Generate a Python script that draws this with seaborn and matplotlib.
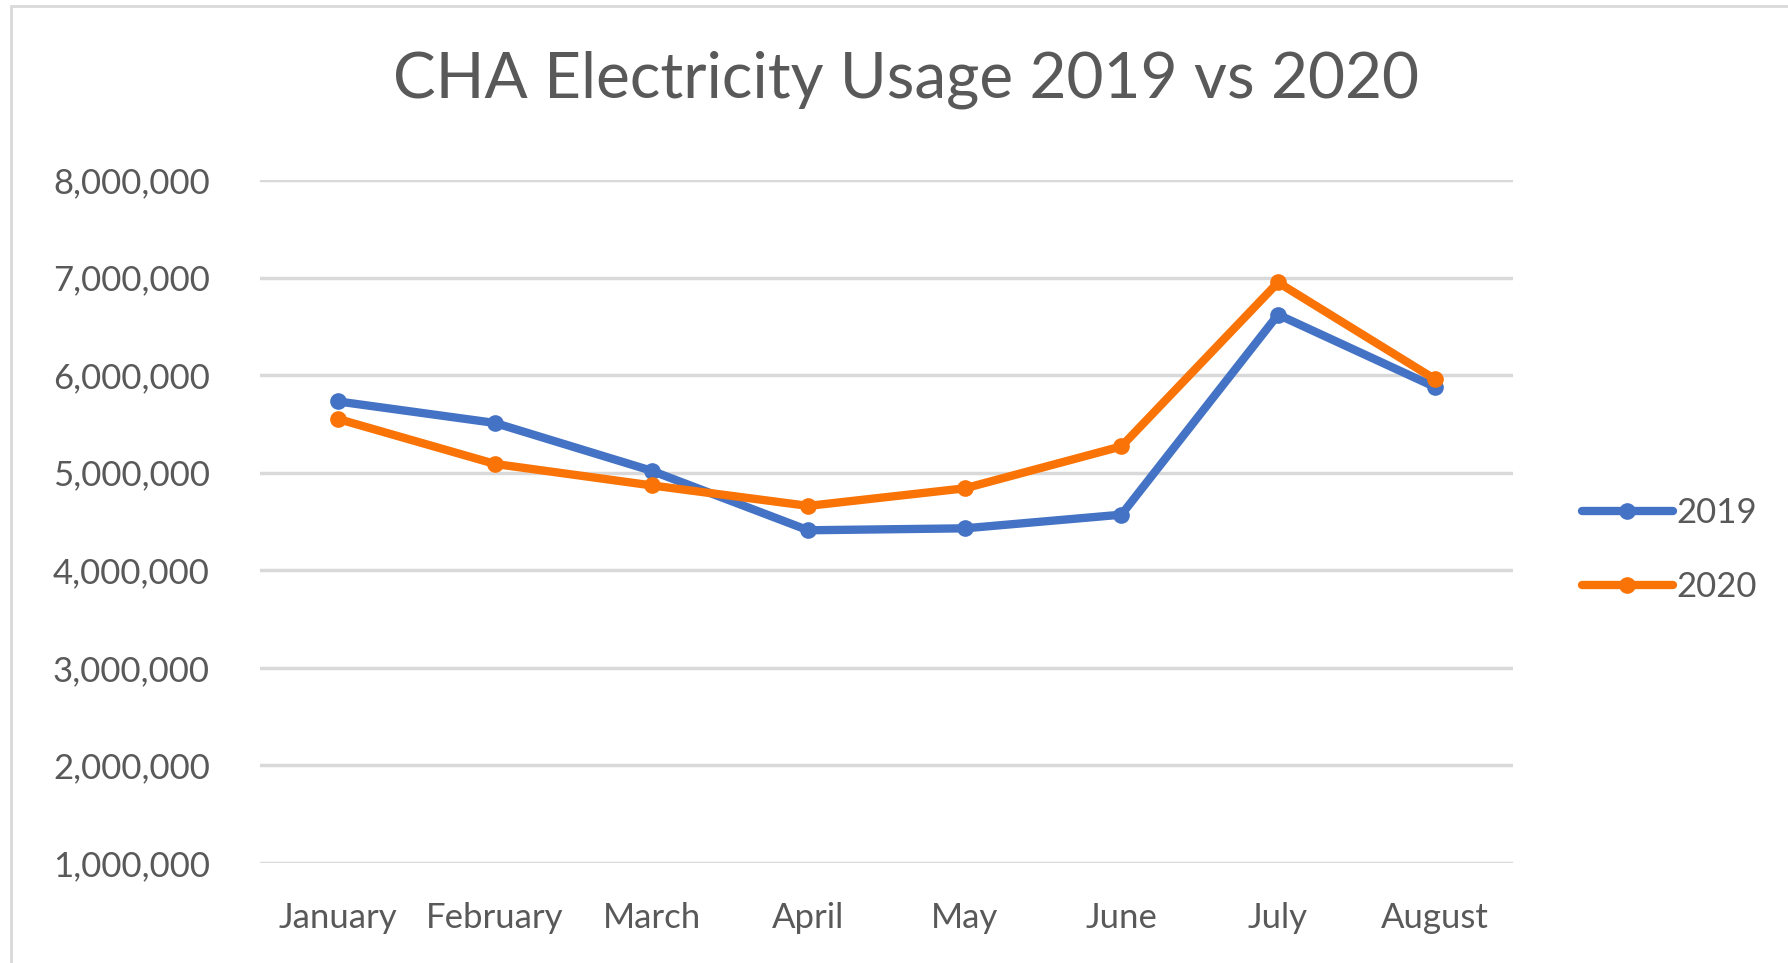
import matplotlib
matplotlib.use("Agg")
import matplotlib.pyplot as plt
import matplotlib.ticker as mticker
from matplotlib.patches import Rectangle
import seaborn as sns
import pandas as pd

months = ["January", "February", "March", "April", "May", "June", "July", "August"]
usage_2019 = [5730000, 5510000, 5020000, 4410000, 4430000, 4570000, 6620000, 5880000]
usage_2020 = [5550000, 5090000, 4870000, 4660000, 4840000, 5270000, 6950000, 5960000]
years = ["2019", "2020"]
y_ticks = [1000000, 2000000, 3000000, 4000000, 5000000, 6000000, 7000000, 8000000]

colors = {"2019": "#4472C4", "2020": "#F97306"}
text_gray = "#595959"

df = pd.DataFrame({
    "month": months * 2,
    "usage": usage_2019 + usage_2020,
    "year": [years[0]] * len(months) + [years[1]] * len(months),
})

sns.set_style("white")
plt.rcParams["font.family"] = ["Lato", "DejaVu Sans"]

fig = plt.figure(figsize=(17.88, 9.63), dpi=100)
ax = fig.add_axes([260 / 1788, 1 - 863 / 963, (1513 - 260) / 1788, (863 - 180) / 963])

for y in y_ticks:
    ax.axhline(y, color="#D9D9D9", lw=2.5, zorder=0)

sns.lineplot(data=df, x="month", y="usage", hue="year", palette=colors,
             marker="o", markersize=12, markeredgewidth=0, linewidth=6,
             sort=False, ax=ax, legend=False)

ax.set_xlim(-0.5, len(months) - 0.5)
ax.set_ylim(y_ticks[0], y_ticks[-1])
ax.set_yticks(y_ticks)
ax.yaxis.set_major_formatter(mticker.FuncFormatter(lambda v, p: f"{int(v):,}"))
ax.set_xlabel("")
ax.set_ylabel("")
ax.tick_params(axis="y", length=0, pad=36, labelsize=25, labelcolor=text_gray)
ax.tick_params(axis="x", length=0, pad=28, labelsize=25, labelcolor=text_gray)
for s in ax.spines.values():
    s.set_visible(False)

fig.text(906 / 1788, 1 - 80 / 963, "CHA Electricity Usage 2019 vs 2020",
         ha="center", va="center", fontsize=46, color=text_gray)

# legend on the right
handles = [plt.Line2D([0], [0], color=colors[y], lw=6, marker="o",
                      markersize=12, markeredgewidth=0) for y in years]
fig.legend(handles, years, loc="center left",
           bbox_to_anchor=(1551 / 1788, 1 - 550 / 963), frameon=False,
           fontsize=25, labelcolor=text_gray, handlelength=2.6,
           handletextpad=0.1, labelspacing=1.2)

# chart area border
fig.patches.append(Rectangle((11 / 1788, -0.1), 1.2, 1.1 - 6 / 963,
                             transform=fig.transFigure, fill=False,
                             edgecolor="#D9D9D9", lw=2))

fig.savefig("out.png", dpi=100)
